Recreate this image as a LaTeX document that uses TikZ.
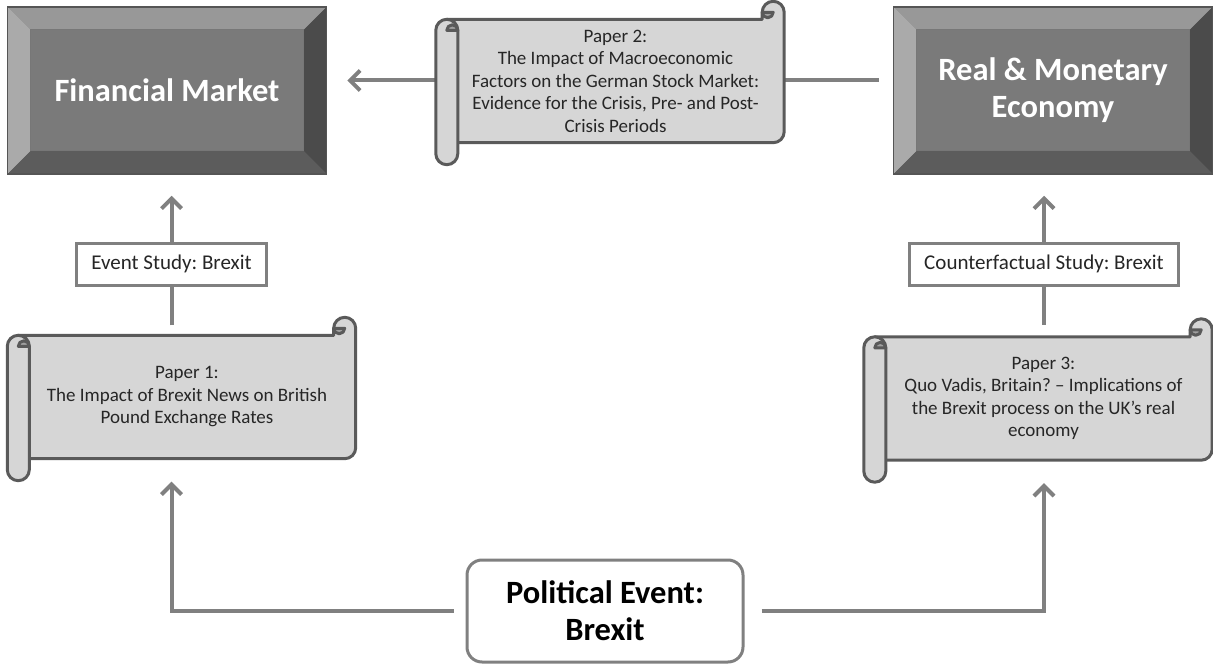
\documentclass[tikz,border=0pt]{standalone}
\usepackage{fontspec}
\setmainfont{Carlito}
\usetikzlibrary{arrows.meta, calc}
\frenchspacing
\definecolor{bevelface}{HTML}{7A7A7A}
\definecolor{beveltop}{HTML}{989898}
\definecolor{bevelleft}{HTML}{AAAAAA}
\definecolor{bevelright}{HTML}{4B4B4B}
\definecolor{bevelbottom}{HTML}{5C5C5C}
\definecolor{bevelline}{HTML}{555555}
\definecolor{scrollfill}{HTML}{D6D6D6}
\definecolor{scrolldark}{HTML}{A0A0A0}
\definecolor{scrollborder}{HTML}{5A5A5A}
\definecolor{linkgray}{HTML}{808080}
\pgfdeclarelayer{bg}
\pgfdeclarelayer{deco}
\pgfsetlayers{bg,deco,main}
\tikzstyle{bevelbox} = [rectangle, draw=bevelline, line width=1.5pt, fill=bevelface,
    text=white, align=center, inner sep=0pt, minimum width=319pt, minimum height=167pt,
    font=\fontsize{32.5}{37}\selectfont\bfseries,
    path picture={
      \fill[beveltop] (path picture bounding box.north west) -- (path picture bounding box.north east)
        -- ([shift={(-23pt,-23pt)}]path picture bounding box.north east)
        -- ([shift={(23pt,-23pt)}]path picture bounding box.north west) -- cycle;
      \fill[bevelleft] (path picture bounding box.north west) -- (path picture bounding box.south west)
        -- ([shift={(23pt,23pt)}]path picture bounding box.south west)
        -- ([shift={(23pt,-23pt)}]path picture bounding box.north west) -- cycle;
      \fill[bevelright] (path picture bounding box.north east) -- (path picture bounding box.south east)
        -- ([shift={(-23pt,23pt)}]path picture bounding box.south east)
        -- ([shift={(-23pt,-23pt)}]path picture bounding box.north east) -- cycle;
      \fill[bevelbottom] (path picture bounding box.south west) -- (path picture bounding box.south east)
        -- ([shift={(-23pt,23pt)}]path picture bounding box.south east)
        -- ([shift={(23pt,23pt)}]path picture bounding box.south west) -- cycle;
      \draw[bevelline!80, line width=1pt] ([shift={(23pt,-23pt)}]path picture bounding box.north west)
        rectangle ([shift={(-23pt,23pt)}]path picture bounding box.south east);
    }]
\tikzstyle{scrollbody} = [rectangle, minimum width=337pt, minimum height=123pt, inner sep=0pt,
    align=center, text=black!85, font=\fontsize{19}{22.5}\selectfont]
\tikzstyle{scrollline} = [draw=scrollborder, line width=3pt, fill=scrollfill, line join=round]
\tikzstyle{studybox} = [rectangle, draw=linkgray, line width=3pt, fill=white, text=black!85,
    minimum height=42pt, inner xsep=15pt, font=\fontsize{21}{25}\selectfont]
\tikzstyle{eventbox} = [rectangle, rounded corners=15pt, draw=linkgray, line width=3pt, fill=white,
    minimum width=276pt, minimum height=102pt, align=center, font=\fontsize{32.5}{37}\selectfont\bfseries]
\tikzstyle{link} = [draw=linkgray, line width=4pt]
\tikzstyle{arrow} = [link, ->, >={Straight Barb[length=10pt, width=20pt]}]
% scroll around a body node: left roll, curled top right corner
\newcommand{\drawscroll}[1]{%
  \draw[scrollline] (#1.north west) -- ([xshift=-22pt]#1.north east)
    -- ([shift={(-22pt,7pt)}]#1.north east) arc[start angle=180, end angle=0, radius=11pt]
    -- ([yshift=11pt]#1.south east) arc[start angle=0, end angle=-90, radius=11pt]
    -- (#1.south west) -- cycle;
  \draw[scrollline, fill=scrolldark] ([shift={(-22pt,7pt)}]#1.north east)
    arc[start angle=180, end angle=360, radius=5.5pt] -- cycle;
  \draw[scrollline, rounded corners=11pt] ([xshift=-11pt]#1.north west)
    rectangle ([shift={(11pt,-22pt)}]#1.south west);
  \draw[scrollline, fill=scrolldark] ([shift={(11pt,-11pt)}]#1.north west)
    arc[start angle=0, end angle=180, radius=5.5pt] -- cycle;
}

\begin{document}
\begin{tikzpicture}[x=1pt, y=-1pt]
    \useasboundingbox (0,0) rectangle (1213,666);

    \node (fm) [bevelbox] at (167,90.5) {Financial Market};
    \node (rme) [bevelbox] at (1053,90.5) {Real \& Monetary\\Economy};

    \node (p2) [scrollbody] at (615.5,81) {Paper 2:\\The Impact of Macroeconomic\\Factors on the German Stock Market:\\Evidence for the Crisis, Pre- and Post-\\Crisis Periods};
    \node (p1) [scrollbody] at (187,397) {Paper 1:\\The Impact of Brexit News on British\\Pound Exchange Rates};
    \node (p3) [scrollbody] at (1043.5,398.5) {Paper 3:\\Quo Vadis, Britain? -- Implications of\\the Brexit process on the UK’s real\\economy};

    \node (ev1) [studybox] at (171.5,264) {Event Study: Brexit};
    \node (ev2) [studybox] at (1044,264) {Counterfactual Study: Brexit};

    \node (pol) [eventbox] at (605,611) {Political Event:\\Brexit};

    \begin{pgfonlayer}{bg}
        \draw [arrow, shorten <=14pt, shorten >=20pt] ([yshift=10pt]rme.west) -- ([yshift=10pt]fm.east);
        \draw [arrow, shorten >=21pt] (ev1.north) -- (ev1.north |- fm.south);
        \draw [link, shorten <=10pt] (p1.north -| ev1) -- (ev1.south);
        \draw [arrow, shorten >=21pt] (ev2.north) -- (ev2.north |- rme.south);
        \draw [link, shorten <=12pt] (p3.north -| ev2) -- (ev2.south);
        \draw [arrow, shorten <=12pt, shorten >=23pt] (pol.west) -| (p1.south -| ev1);
        \draw [arrow, shorten <=17pt, shorten >=23pt] (pol.east) -| (p3.south -| ev2);
    \end{pgfonlayer}

    \begin{pgfonlayer}{deco}
        \drawscroll{p1}
        \drawscroll{p2}
        \drawscroll{p3}
    \end{pgfonlayer}
\end{tikzpicture}
\end{document}
